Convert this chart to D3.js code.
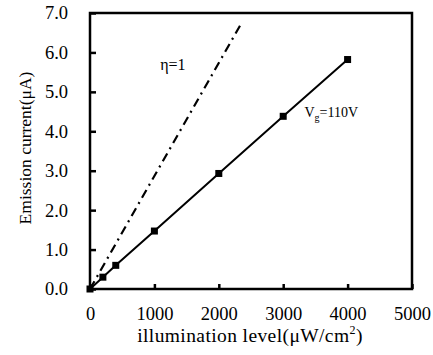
<html>
<head>
    <script src="https://d3js.org/d3.v7.min.js"></script>
    <style>
        body { margin: 0; background: #fff; }
        text { font-family: "Liberation Serif", "DejaVu Serif", serif; fill: #000; }
    </style>
</head>
<body>
    <svg id="chart" width="433" height="355"></svg>
    <script>
        // measured points (illumination, current)
        const illumination = [0, 200, 400, 1000, 2000, 3000, 4000];
        const current = [0, 0.3, 0.6, 1.47, 2.93, 4.38, 5.82];
        // eta = 1 reference line
        const etaX = [0, 2330];
        const etaY = [0, 6.68];
        const xTicks = [0, 1000, 2000, 3000, 4000, 5000];
        const yTicks = [0, 1, 2, 3, 4, 5, 6, 7];

        const svg = d3.select("#chart");
        const margins = { top: 13, right: 21, bottom: 66, left: 90 };
        const chartWidth = 433 - margins.left - margins.right;
        const chartHeight = 355 - margins.top - margins.bottom;

        const xScale = d3.scaleLinear().domain([0, 5000]).range([0, chartWidth]);
        const yScale = d3.scaleLinear().domain([0, 7]).range([chartHeight, 0]);

        const chartArea = svg.append("g")
            .attr("transform", `translate(${margins.left},${margins.top})`);

        // axes with inward ticks
        const bottomAxis = d3.axisBottom(xScale).tickValues(xTicks)
            .tickSizeInner(-5).tickSizeOuter(0).tickPadding(18)
            .tickFormat(d3.format("d"));
        const xg = chartArea.append("g")
            .attr("transform", `translate(0,${chartHeight})`)
            .call(bottomAxis);

        const leftAxis = d3.axisLeft(yScale).tickValues(yTicks)
            .tickSizeInner(-6).tickSizeOuter(0).tickPadding(22)
            .tickFormat(d3.format(".1f"));
        const yg = chartArea.append("g").call(leftAxis);

        [xg, yg].forEach(g => {
            g.select(".domain").remove();
            g.selectAll("line").attr("stroke", "#000").attr("stroke-width", 2.5);
            g.selectAll("text").style("font-size", "18.5px")
                .style("font-family", "'Liberation Serif', serif");
        });

        // frame
        chartArea.append("rect")
            .attr("x", 0).attr("y", 0)
            .attr("width", chartWidth).attr("height", chartHeight)
            .attr("fill", "none").attr("stroke", "#000").attr("stroke-width", 2.5);

        // eta = 1 dash-dot line
        const etaData = etaX.map((x, i) => [x, etaY[i]]);
        chartArea.append("path")
            .datum(etaData)
            .attr("d", d3.line().x(d => xScale(d[0])).y(d => yScale(d[1])))
            .attr("fill", "none").attr("stroke", "#000").attr("stroke-width", 2.2)
            .attr("stroke-dasharray", "9,5,2,5");

        // measured series
        const data = illumination.map((x, i) => [x, current[i]]);
        chartArea.append("path")
            .datum(data)
            .attr("d", d3.line().x(d => xScale(d[0])).y(d => yScale(d[1])))
            .attr("fill", "none").attr("stroke", "#000").attr("stroke-width", 2);

        chartArea.selectAll(".pt").data(data)
            .join("rect")
            .attr("class", "pt")
            .attr("x", d => xScale(d[0]) - 3.5)
            .attr("y", d => yScale(d[1]) - 3.5)
            .attr("width", 7).attr("height", 7)
            .attr("fill", "#000");

        // annotations
        chartArea.append("text")
            .attr("x", xScale(1090)).attr("y", yScale(5.55))
            .style("font-size", "16px")
            .text("η=1");

        const vg = chartArea.append("text")
            .attr("x", xScale(3330)).attr("y", yScale(4.35))
            .style("font-size", "14px");
        vg.append("tspan").text("V");
        vg.append("tspan").attr("dy", 4).style("font-size", "10px").text("g");
        vg.append("tspan").attr("dy", -4).text("=110V");

        // axis titles
        const xt = svg.append("text")
            .attr("text-anchor", "middle")
            .attr("x", 250)
            .attr("y", 342)
            .style("font-size", "19.5px")
            .style("letter-spacing", "0.4px");
        xt.append("tspan").text("illumination level(μW/cm");
        xt.append("tspan").attr("dy", -8).style("font-size", "12px").text("2");
        xt.append("tspan").attr("dy", 8).text(")");

        svg.append("text")
            .attr("text-anchor", "middle")
            .attr("transform", `translate(31,${margins.top + chartHeight / 2 - 3}) rotate(-90)`)
            .style("font-size", "17.5px")
            .text("Emission current(μA)");
    </script>
</body>
</html>
